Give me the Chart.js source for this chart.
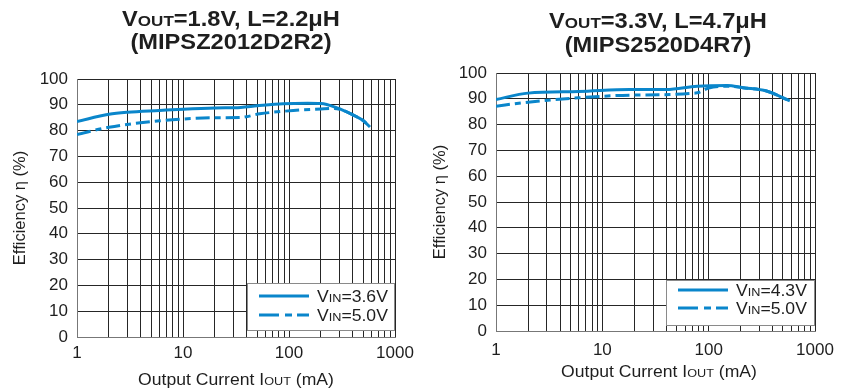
<!DOCTYPE html>
<html><head><meta charset="utf-8">
<script src="https://cdn.jsdelivr.net/npm/chart.js@4/dist/chart.umd.min.js"></script>
<style>
html,body{margin:0;padding:0;background:#fff;}
#wrap{position:relative;width:848px;height:389px;overflow:hidden;}
.c{position:absolute;top:0;width:424px;height:389px;}
</style></head><body>
<div id="wrap">
<div class="c" style="left:0"><canvas id="c1" width="424" height="389"></canvas></div>
<div class="c" style="left:424px"><canvas id="c2" width="424" height="389"></canvas></div>
</div>
<script>
// ---------- data ----------
const leftTitle = ['V_{OUT}=1.8V, L=2.2μH', '(MIPSZ2012D2R2)'];
const rightTitle = ['V_{OUT}=3.3V, L=4.7μH', '(MIPS2520D4R7)'];
const xAxisTitle = 'Output Current I_{OUT} (mA)';
const yAxisTitle = 'Efficiency η (%)';
const xTickLabels = ['1', '10', '100', '1000'];
const yTickLabels = ['0','10','20','30','40','50','60','70','80','90','100'];

const leftLabels = ['V_{IN}=3.6V', 'V_{IN}=5.0V'];
const currentL36 = [1, 2, 3, 6, 10, 20, 35, 50, 88, 150, 200, 280, 400, 500, 580];
const effL36     = [83.5, 86.3, 87.1, 87.8, 88.3, 88.8, 89.0, 89.6, 90.4, 90.6, 90.5, 88.9, 86.1, 83.9, 81.4];
const currentL50 = [1, 2, 6, 10, 20, 35, 53, 110, 200, 250, 300, 400, 500, 580];
const effL50     = [78.5, 81.3, 83.8, 84.5, 85.0, 85.1, 86.5, 87.8, 88.4, 88.6, 88.3, 86.1, 83.9, 81.4];

const rightLabels = ['V_{IN}=4.3V', 'V_{IN}=5.0V'];
const currentR43 = [1, 2, 6, 18, 40, 78, 150, 210, 350, 580];
const effR43     = [89.7, 92.2, 92.8, 93.6, 93.6, 94.9, 95.2, 94.3, 93.0, 89.2];
const currentR50 = [1, 1.8, 6, 18, 78, 100, 160, 210, 350, 580];
const effR50     = [87.1, 88.5, 90.4, 91.4, 92.3, 94.2, 94.9, 94.3, 93.0, 89.2];

// ---------- drawing helpers ----------
const FONT = "'Liberation Sans', Arial, sans-serif";
const BLUE = '#0a86cb';
const INK = '#1e1e1e';
Chart.defaults.font.family = FONT;

function parseRich(s) {
  const segs = []; const re = /_\{([^}]*)\}/g; let last = 0, m;
  while ((m = re.exec(s))) {
    if (m.index > last) segs.push({t: s.slice(last, m.index), small: false});
    segs.push({t: m[1], small: true}); last = re.lastIndex;
  }
  if (last < s.length) segs.push({t: s.slice(last), small: false});
  return segs;
}
function drawRich(ctx, s, x, cy, size, bold, sx, align) {
  const segs = parseRich(s);
  const w = bold ? 'bold ' : '';
  let total = 0;
  segs.forEach(g => { ctx.font = w + (g.small ? size * 0.72 : size) + 'px ' + FONT; g.w = ctx.measureText(g.t).width; total += g.w; });
  ctx.save();
  const start = align === 'left' ? x : x - total * sx / 2;
  ctx.translate(start, cy + size * 0.36);
  ctx.scale(sx, 1);
  ctx.fillStyle = INK; ctx.textBaseline = 'alphabetic'; ctx.textAlign = 'left';
  let cx = 0;
  segs.forEach(g => { ctx.font = w + (g.small ? size * 0.72 : size) + 'px ' + FONT; ctx.fillText(g.t, cx, 0); cx += g.w; });
  ctx.restore();
}

const richPlugin = {
  id: 'rich',
  afterDraw(chart) {
    const o = chart.options.plugins.rich; const ctx = chart.ctx;
    o.title.forEach((t, i) => drawRich(ctx, t, o.titleX, o.titleY[i], 21.5, true, 1.1, 'center'));
    drawRich(ctx, o.xTitle, o.xTitleX, o.xTitleY, 16.3, false, 1.08, 'center');
    const b = o.legend;
    ctx.save();
    ctx.fillStyle = '#fff'; ctx.fillRect(b.x, b.y, b.w, b.h);
    ctx.strokeStyle = '#8a8a8a'; ctx.lineWidth = 1; ctx.strokeRect(b.x + 0.5, b.y + 0.5, b.w, b.h);
    chart.data.datasets.forEach((ds, i) => {
      const ly = b.y + b.rows[i];
      ctx.beginPath(); ctx.strokeStyle = ds.borderColor; ctx.lineWidth = 3;
      ctx.setLineDash(i === 1 ? [20, 6, 7, 5] : []);
      ctx.moveTo(b.x + 12, ly); ctx.lineTo(b.x + 62, ly); ctx.stroke();
      ctx.setLineDash([]);
      drawRich(ctx, o.legendLabels[i], b.x + 70, ly, 16, false, 1.1, 'left');
    });
    ctx.restore();
  }
};

const decadeTicks = [];
for (let d = 1; d <= 100; d *= 10) for (let k = 1; k <= 9; k++) decadeTicks.push(d * k);
decadeTicks.push(1000);

function makeChart(id, g, titles, labels, series) {
  const datasets = series.map((s, i) => ({
    label: labels[i].replace(/_\{([^}]*)\}/g, '$1'),
    data: s.x.map((v, j) => ({x: v, y: s.y[j]})),
    borderColor: BLUE, borderWidth: 3, pointRadius: 0,
    borderDash: i === 1 ? [14, 5, 6, 5] : [],
    cubicInterpolationMode: 'monotone', fill: false
  }));
  return new Chart(document.getElementById(id), {
    type: 'line',
    data: {datasets},
    plugins: [richPlugin],
    options: {
      responsive: false, animation: false, devicePixelRatio: 1,
      layout: {padding: {top: g.padTop, right: g.padRight, left: 0, bottom: 0}},
      plugins: {
        legend: {display: false}, title: {display: false}, tooltip: {enabled: false},
        rich: {title: titles, titleX: g.titleX, titleY: g.titleY, xTitle: xAxisTitle,
               xTitleX: g.xTitleX, xTitleY: g.xTitleY, legend: g.legend, legendLabels: labels}
      },
      scales: {
        x: {
          type: 'logarithmic', min: 1, max: 1000,
          afterBuildTicks(s) { s.ticks = decadeTicks.map(v => ({value: v})); },
          afterFit(s) { s.height = g.xHeight; },
          ticks: {autoSkip: false, maxRotation: 0, color: INK, font: {size: 17}, padding: g.xPad,
                  callback(v) { const t = String(Math.round(v)); return xTickLabels.includes(t) && Math.abs(v - Math.round(v)) < 1e-9 ? t : ''; }},
          grid: {color: '#262626', lineWidth: 1, drawTicks: false},
          border: {color: '#777', width: 1}
        },
        y: {
          min: 0, max: 100,
          afterFit(s) { s.width = g.yWidth; },
          ticks: {stepSize: 10, color: INK, font: {size: 17}, padding: 9,
                  callback(v, i) { return yTickLabels[i]; }},
          grid: {color: '#262626', lineWidth: 1, drawTicks: false},
          border: {color: '#777', width: 1},
          title: {display: true, text: yAxisTitle, color: INK, font: {size: 16.5}, padding: {top: g.yTitlePad, bottom: 0}}
        }
      }
    }
  });
}

makeChart('c1', {
  padTop: 79, padRight: 29, xHeight: 52, yWidth: 77, xPad: 6, yTitlePad: 11,
  titleX: 231, titleY: [18, 41], xTitleX: 236, xTitleY: 379,
  legend: {x: 247, y: 283, w: 147, h: 47, rows: [13, 32]}
}, leftTitle, leftLabels, [{x: currentL36, y: effL36}, {x: currentL50, y: effL50}]);

makeChart('c2', {
  padTop: 73, padRight: 33, xHeight: 58, yWidth: 72, xPad: 9, yTitlePad: 7,
  titleX: 234, titleY: [20, 44], xTitleX: 235, xTitleY: 371,
  legend: {x: 242, y: 280, w: 148, h: 45, rows: [10, 28]}
}, rightTitle, rightLabels, [{x: currentR43, y: effR43}, {x: currentR50, y: effR50}]);
</script>
</body></html>
